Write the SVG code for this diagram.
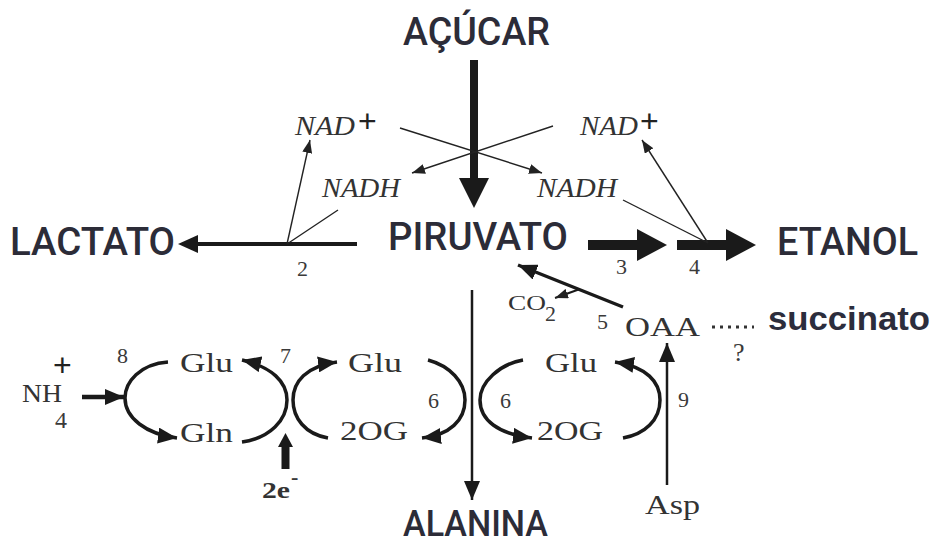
<svg xmlns="http://www.w3.org/2000/svg" width="935" height="547" viewBox="0 0 935 547">
<style>
.big{font-family:Roboto,"Liberation Sans",sans-serif;font-weight:500;font-size:38px;fill:#2c2c38}
.suc{font-family:"Liberation Sans",Arial,sans-serif;font-weight:bold;font-size:33px;fill:#2c2d3c}
.s{font-family:"Liberation Serif","Times New Roman",serif;font-size:27px;fill:#333}
.it{font-family:"Liberation Serif","Times New Roman",serif;font-style:italic;font-size:27px;fill:#333}
.n{font-family:"Liberation Serif","Times New Roman",serif;font-size:22px;fill:#3a3a3a}
.plus{font-family:"Liberation Sans",Arial,sans-serif;font-size:32px;fill:#222}
.thin{stroke:#222;stroke-width:1.4;fill:none}
.med{stroke:#1a1a1a;stroke-width:3.5;fill:none}
.cyc{stroke:#1a1a1a;stroke-width:3.5;fill:none}
.fill{fill:#1a1a1a}
</style>
<defs>
<marker id="ah" markerUnits="userSpaceOnUse" markerWidth="14" markerHeight="10" refX="13" refY="5" orient="auto">
<path d="M0,0 L13,5 L0,10 z" fill="#222"/>
</marker>
<marker id="am" markerUnits="userSpaceOnUse" markerWidth="20" markerHeight="16" refX="19" refY="8" orient="auto">
<path d="M0,0 L19,8 L0,16 z" fill="#1a1a1a"/>
</marker>
</defs>

<g id="connectors">
<rect x="470" y="60" width="8" height="122" class="fill"/>
<polygon points="459,178 489,178 474,208" class="fill"/>
<line x1="400" y1="128" x2="542" y2="173" class="thin" marker-end="url(#ah)"/>
<line x1="553" y1="126" x2="412" y2="173" class="thin" marker-end="url(#ah)"/>
<line x1="357" y1="244" x2="195" y2="244" stroke="#1a1a1a" stroke-width="4"/>
<polygon points="178,244 198,235 198,253" class="fill"/>
<line x1="287" y1="244" x2="310" y2="140" class="thin" marker-end="url(#ah)"/>
<line x1="287" y1="244" x2="338" y2="210" class="thin"/>
<rect x="588" y="240" width="52" height="10" class="fill"/>
<polygon points="637,229 637,261 667,245" class="fill"/>
<rect x="677" y="240" width="52" height="10" class="fill"/>
<polygon points="726,229 726,261 756,245" class="fill"/>
<line x1="623" y1="200" x2="708" y2="243" class="thin"/>
<line x1="708" y1="243" x2="642" y2="140" class="thin" marker-end="url(#ah)"/>
<line x1="623" y1="307" x2="518" y2="265" class="med" marker-end="url(#am)"/>
<line x1="580" y1="289" x2="555" y2="298" stroke="#1a1a1a" stroke-width="2" marker-end="url(#ah)"/>
<line x1="472" y1="290" x2="472" y2="500" stroke="#1a1a1a" stroke-width="2.5" marker-end="url(#am)"/>
<line x1="667" y1="485" x2="667" y2="343" stroke="#1a1a1a" stroke-width="2.5" marker-end="url(#am)"/>
<line x1="712" y1="327" x2="754" y2="327" stroke="#333" stroke-width="3" stroke-dasharray="3 5"/>
<line x1="82" y1="397" x2="124" y2="397" stroke="#1a1a1a" stroke-width="4.5" marker-end="url(#am)"/>
<path d="M168,362 C140,364 125,382 125,398 C125,418 146,434 177,438" class="cyc" marker-end="url(#am)"/>
<path d="M242,442 C270,438 287,420 287,400 C287,382 272,367 242,360" class="cyc" marker-end="url(#am)"/>
<path d="M328,438 C305,434 293,418 293,400 C293,382 306,366 337,362" class="cyc" marker-end="url(#am)"/>
<path d="M428,360 C450,366 465,382 465,400 C465,420 450,435 422,438" class="cyc" marker-end="url(#am)"/>
<path d="M523,360 C500,364 480,382 480,400 C480,420 498,434 532,438" class="cyc" marker-end="url(#am)"/>
<path d="M623,438 C645,434 660,420 660,400 C660,382 647,367 615,362" class="cyc" marker-end="url(#am)"/>
<rect x="281.5" y="446" width="8" height="23" class="fill"/>
<polygon points="278,447 293,447 285.5,433" class="fill"/>
</g>

<g id="acucar"><text class="big" x="403" y="45" textLength="147" lengthAdjust="spacingAndGlyphs">AÇÚCAR</text></g>
<g id="lactato"><text class="big" x="10" y="255" textLength="165" lengthAdjust="spacingAndGlyphs">LACTATO</text></g>
<g id="piruvato"><text class="big" x="388" y="250" textLength="180" lengthAdjust="spacingAndGlyphs">PIRUVATO</text></g>
<g id="etanol"><text class="big" x="777" y="255" textLength="141" lengthAdjust="spacingAndGlyphs">ETANOL</text></g>
<g id="alanina"><text class="big" x="403" y="536" style="font-size:36px" textLength="145" lengthAdjust="spacingAndGlyphs">ALANINA</text></g>
<g id="succinato"><text class="suc" x="768" y="330" textLength="162" lengthAdjust="spacingAndGlyphs">succinato</text></g>

<g id="nad-left"><text class="it" x="295" y="135" textLength="60" lengthAdjust="spacingAndGlyphs">NAD</text><text class="plus" x="358" y="132">+</text></g>
<g id="nad-right"><text class="it" x="580" y="135" textLength="58" lengthAdjust="spacingAndGlyphs">NAD</text><text class="plus" x="640" y="132">+</text></g>
<g id="nadh-left"><text class="it" x="322" y="197" textLength="78" lengthAdjust="spacingAndGlyphs">NADH</text></g>
<g id="nadh-right"><text class="it" x="537" y="197" textLength="80" lengthAdjust="spacingAndGlyphs">NADH</text></g>

<g id="labels-num">
<text class="n" x="297" y="276">2</text>
<text class="n" x="616" y="274">3</text>
<text class="n" x="689" y="274">4</text>
<text class="n" x="597" y="329">5</text>
<text class="n" x="428" y="408">6</text>
<text class="n" x="500" y="408">6</text>
<text class="n" x="280" y="363">7</text>
<text class="n" x="117" y="363">8</text>
<text class="n" x="678" y="407">9</text>
<text class="n" x="733" y="361" style="font-size:26px">?</text>
</g>

<g id="co2"><text class="s" x="508" y="310" style="font-size:21px" textLength="38" lengthAdjust="spacingAndGlyphs">CO</text><text class="n" x="545" y="321">2</text></g>
<g id="oaa"><text class="s" x="625" y="336" textLength="75" lengthAdjust="spacingAndGlyphs">OAA</text></g>
<g id="asp"><text class="s" x="645" y="514" textLength="55" lengthAdjust="spacingAndGlyphs">Asp</text></g>
<g id="nh4"><text class="s" x="22" y="402" style="font-size:25px" textLength="40" lengthAdjust="spacingAndGlyphs">NH</text><text class="plus" x="53" y="376">+</text><text class="n" x="55" y="428" style="font-size:24px">4</text></g>
<g id="glu1"><text class="s" x="180" y="372" textLength="53" lengthAdjust="spacingAndGlyphs">Glu</text></g>
<g id="gln"><text class="s" x="180" y="442" textLength="53" lengthAdjust="spacingAndGlyphs">Gln</text></g>
<g id="glu2"><text class="s" x="348" y="372" textLength="54" lengthAdjust="spacingAndGlyphs">Glu</text></g>
<g id="og2"><text class="s" x="340" y="440" textLength="68" lengthAdjust="spacingAndGlyphs">2OG</text></g>
<g id="glu3"><text class="s" x="545" y="372" textLength="52" lengthAdjust="spacingAndGlyphs">Glu</text></g>
<g id="og3"><text class="s" x="537" y="440" textLength="66" lengthAdjust="spacingAndGlyphs">2OG</text></g>
<g id="e2"><text class="s" x="262" y="498" style="font-size:24px;font-weight:bold" textLength="28" lengthAdjust="spacingAndGlyphs">2e</text><text class="n" x="291" y="484" style="font-weight:bold">-</text></g>
</svg>
